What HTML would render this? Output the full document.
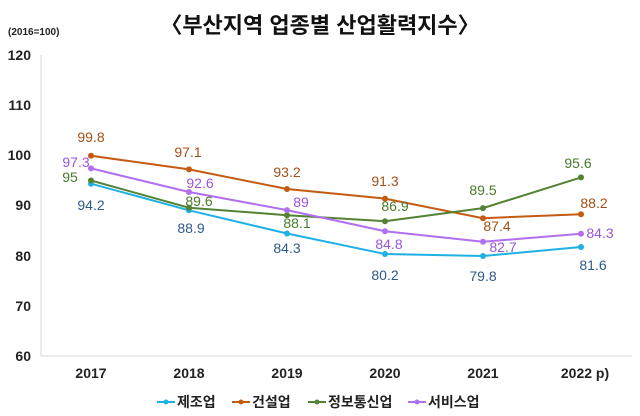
<!DOCTYPE html>
<html><head><meta charset="utf-8"><style>
html,body{margin:0;padding:0;background:#fff;}
svg{display:block;font-family:"Liberation Sans","Noto Sans CJK KR",sans-serif;}
</style></head><body>
<svg width="640" height="416" viewBox="0 0 640 416">
<text x="320" y="33" text-anchor="middle" font-size="22" font-weight="bold" fill="#111">〈부산지역 업종별 산업활력지수〉</text>
<text x="8" y="35" font-size="10" font-weight="bold" fill="#222">(2016=100)</text>
<g font-size="14" font-weight="bold" fill="#222" text-anchor="end">
<text x="31" y="60">120</text><text x="31" y="110">110</text><text x="31" y="160">100</text>
<text x="31" y="210">90</text><text x="31" y="261">80</text><text x="31" y="311">70</text><text x="31" y="361">60</text>
</g>
<line x1="41" y1="55" x2="41" y2="356" stroke="#d9d9d9"/>
<line x1="41" y1="356" x2="632" y2="356" stroke="#d9d9d9"/>
<g font-size="14" font-weight="bold" fill="#222" text-anchor="middle">
<text x="91" y="378">2017</text><text x="189" y="378">2018</text><text x="287" y="378">2019</text>
<text x="385" y="378">2020</text><text x="483" y="378">2021</text><text x="585" y="378">2022 p)</text>
</g>
<g fill="none" stroke-width="2">
<polyline stroke="#1fb0e4" points="91,183.7 189,210.3 287,233.5 385,254 483,256 581,247"/>
<polyline stroke="#c55a11" points="91,155.8 189,169.4 287,189 385,198.6 483,218.2 581,214.2"/>
<polyline stroke="#548235" points="91,180.5 189,207.7 287,215.2 385,221.2 483,208.1 581,177.4"/>
<polyline stroke="#b070f0" points="91,168.4 189,192 287,210.1 385,231.2 483,241.8 581,233.8"/>
</g>
<g fill="#1fb0e4"><circle cx="91" cy="183.7" r="3"/><circle cx="189" cy="210.3" r="3"/><circle cx="287" cy="233.5" r="3"/><circle cx="385" cy="254" r="3"/><circle cx="483" cy="256" r="3"/><circle cx="581" cy="247" r="3"/></g>
<g fill="#c55a11"><circle cx="91" cy="155.8" r="3"/><circle cx="189" cy="169.4" r="3"/><circle cx="287" cy="189" r="3"/><circle cx="385" cy="198.6" r="3"/><circle cx="483" cy="218.2" r="3"/><circle cx="581" cy="214.2" r="3"/></g>
<g fill="#548235"><circle cx="91" cy="180.5" r="3"/><circle cx="189" cy="207.7" r="3"/><circle cx="287" cy="215.2" r="3"/><circle cx="385" cy="221.2" r="3"/><circle cx="483" cy="208.1" r="3"/><circle cx="581" cy="177.4" r="3"/></g>
<g fill="#b070f0"><circle cx="91" cy="168.4" r="3"/><circle cx="189" cy="192" r="3"/><circle cx="287" cy="210.1" r="3"/><circle cx="385" cy="231.2" r="3"/><circle cx="483" cy="241.8" r="3"/><circle cx="581" cy="233.8" r="3"/></g>
<g font-size="14" text-anchor="middle">
<g fill="#2f5a85"><text x="91" y="210">94.2</text><text x="191" y="233">88.9</text><text x="287" y="253">84.3</text><text x="385" y="280">80.2</text><text x="483" y="281">79.8</text><text x="593" y="270">81.6</text></g>
<g fill="#a24f15"><text x="91" y="142">99.8</text><text x="188" y="157">97.1</text><text x="287" y="177">93.2</text><text x="385" y="186">91.3</text><text x="497" y="231">87.4</text><text x="594" y="208">88.2</text></g>
<g fill="#4a7a2a"><text x="70" y="182">95</text><text x="199" y="206">89.6</text><text x="297" y="228">88.1</text><text x="395" y="211">86.9</text><text x="483" y="195">89.5</text><text x="578" y="168">95.6</text></g>
<g fill="#9b55d8"><text x="76" y="167">97.3</text><text x="200" y="188">92.6</text><text x="301" y="207">89</text><text x="389" y="249">84.8</text><text x="503" y="252">82.7</text><text x="600" y="238">84.3</text></g>
</g>
<g font-size="14" font-weight="bold" fill="#222">
<line x1="157" y1="402" x2="175" y2="402" stroke="#1fb0e4" stroke-width="2"/><circle cx="166" cy="402" r="2.5" fill="#1fb0e4"/><text x="177" y="407">제조업</text>
<line x1="232" y1="402" x2="250" y2="402" stroke="#c55a11" stroke-width="2"/><circle cx="241" cy="402" r="2.5" fill="#c55a11"/><text x="252" y="407">건설업</text>
<line x1="308" y1="402" x2="326" y2="402" stroke="#548235" stroke-width="2"/><circle cx="317" cy="402" r="2.5" fill="#548235"/><text x="328" y="407">정보통신업</text>
<line x1="408" y1="402" x2="426" y2="402" stroke="#b070f0" stroke-width="2"/><circle cx="417" cy="402" r="2.5" fill="#b070f0"/><text x="428" y="407">서비스업</text>
</g>
</svg>
</body></html>
